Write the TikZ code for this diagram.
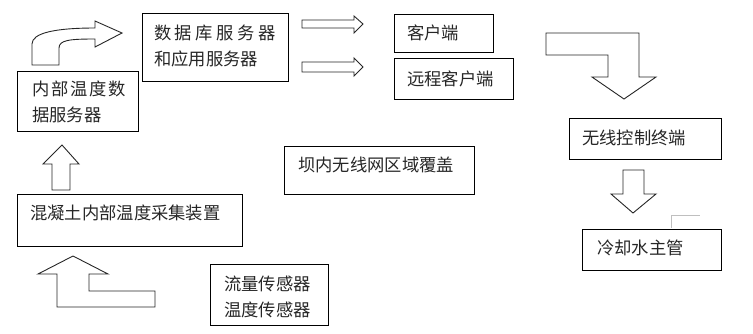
\documentclass[tikz,border=0pt]{standalone}
\usepackage{fontspec}
\setmainfont{Noto Sans CJK SC}
\newcommand\pa[1]{\makebox[19pt][l]{#1}}
\newcommand\pb[1]{\makebox[20.8pt][l]{#1}}
\begin{document}
\begin{tikzpicture}[x=1pt,y=-1pt,
  box/.style={draw=black,line width=1.1pt,rectangle,inner sep=0pt,anchor=north west},
  txt/.style={anchor=west,inner sep=0pt,align=left,font=\fontsize{17.3pt}{26pt}\selectfont,text=black!85},
  bigarrow/.style={draw=black!85,line width=0.9pt,line join=miter,fill=white}]
\useasboundingbox (0,0) rectangle (753,333);
% boxes
\node[box,minimum width=121pt,minimum height=60pt] (inner) at (17,71) {};
\node[box,minimum width=146pt,minimum height=68pt] (db) at (142,13) {};
\node[box,minimum width=99pt,minimum height=38pt] (client) at (394,14) {};
\node[box,minimum width=119pt,minimum height=41pt] (remote) at (394,58) {};
\node[box,minimum width=152pt,minimum height=41pt] (wireless) at (569,118) {};
\node[box,minimum width=190pt,minimum height=48pt] (dam) at (284,146) {};
\node[box,minimum width=225pt,minimum height=52pt] (collect) at (17,194) {};
\node[box,minimum width=139pt,minimum height=41pt] (cool) at (582,229) {};
\node[box,minimum width=118pt,minimum height=61pt] (sensor) at (210,264) {};
% texts
\node[txt] (innert) at (32,102) {\pa{内}\pa{部}\pa{温}\pa{度}数\\据服务器};
\node[txt] (dbt) at (154,45.5) {\pb{数}\pb{据}\pb{库}\pb{服}\pb{务}器\\和应用服务器};
\node[txt] (clientt) at (407,33) {客户端};
\node[txt] (remotet) at (407,79) {远程客户端};
\node[txt] (wirelesst) at (582,138) {无线控制终端};
\node[txt] (damt) at (298,165) {坝内无线网区域覆盖};
\node[txt] (collectt) at (30,213) {混凝土内部温度采集装置};
\node[txt] (coolt) at (597,248) {冷却水主管};
\node[txt] (sensort) at (224,297) {流量传感器\\温度传感器};
% curved arrow
\draw[bigarrow] (32,65) -- (32,44) .. controls (32,33) and (55,28) .. (95,28) -- (95,21) -- (122,33) -- (95,47) -- (95,39)
  .. controls (70,39) and (59,40) .. (59,48) -- (59,65) -- cycle;
% right arrows
\draw[bigarrow] (302,20) -- (354,20) -- (354,16) -- (363,24) -- (354,33) -- (354,28) -- (302,28) -- cycle;
\draw[bigarrow] (302,62) -- (354,62) -- (354,58) -- (363,67) -- (354,76) -- (354,72) -- (302,72) -- cycle;
% bent down arrow
\draw[bigarrow] (546,33) -- (639,33) -- (639,77) -- (656,77) -- (624,99) -- (592,77) -- (608,77) -- (608,55) -- (546,55) -- cycle;
% down arrow
\draw[bigarrow] (623,170) -- (644,170) -- (644,194) -- (656,194) -- (633,213) -- (611,194) -- (623,194) -- cycle;
% up arrow
\draw[bigarrow] (52,190) -- (52,164) -- (43,164) -- (62,145) -- (79,164) -- (70,164) -- (70,190) -- cycle;
% bent up arrow
\draw[bigarrow] (57,307) -- (57,274) -- (38,274) -- (73,256) -- (108,274) -- (89,274) -- (89,291) -- (155,291) -- (155,307) -- cycle;
% gray line
\coordinate (g1) at (671,228);
\coordinate (g2) at (671,215);
\coordinate (g3) at (700,215);
\draw[black!25,line width=0.8pt] (g1) -- (g2) -- (g3);
\end{tikzpicture}
\end{document}
